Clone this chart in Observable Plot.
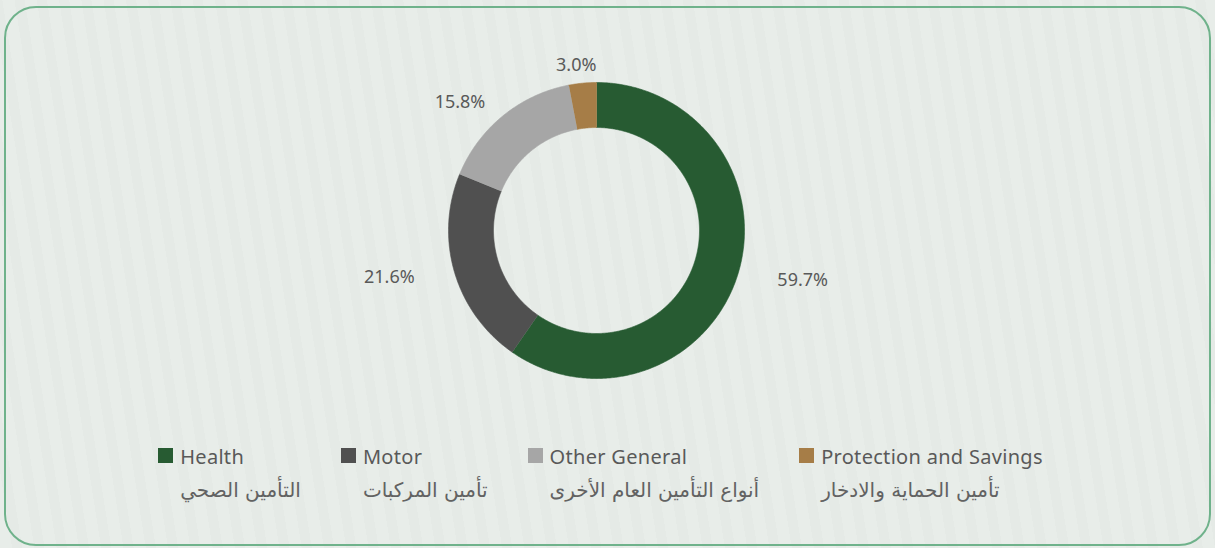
<!DOCTYPE html>
<html>
<head>
<meta charset="utf-8">
<script src="https://cdn.jsdelivr.net/npm/d3@7"></script>
<script src="https://cdn.jsdelivr.net/npm/@observablehq/plot@0.6"></script>
<style>
  html, body { margin: 0; padding: 0; }
  body { width: 1215px; height: 548px; overflow: hidden; font-family: "Noto Sans", "DejaVu Sans", sans-serif; }
  #page {
    position: relative; width: 1215px; height: 548px;
    background: repeating-linear-gradient(81deg, #e8ede9 0px, #e8ede9 12px, #e5eae6 12px, #e5eae6 22px);
  }
  #frame {
    position: absolute; left: 4px; top: 6px; width: 1203px; height: 536px;
    border: 2px solid #6fb28b; border-radius: 32px; pointer-events: none;
  }
  #chart { position: absolute; left: 0; top: 0; }
  #legend {
    position: absolute; left: 0; top: 443px; width: 1215px;
    display: flex; justify-content: center; gap: 40px; padding-right: 14px; box-sizing: border-box;
    color: #595959;
  }
  .item { display: flex; align-items: flex-start; }
  .sw { width: 15px; height: 15px; margin-top: 5px; margin-right: 7px; flex: none; }
  .en { font-size: 20px; letter-spacing: 0.3px; line-height: 27px; white-space: nowrap; }
  .ar { font-family: "DejaVu Sans", sans-serif; font-size: 20px; line-height: 40px; white-space: nowrap; text-align: left; color: #626262; }
</style>
</head>
<body>
<div id="page">
  <div id="chart"></div>
  <div id="legend"></div>
  <div id="frame"></div>
</div>
<script>
// ---- data ----
const categories = ["Health", "Motor", "Other General", "Protection and Savings"];
const arabicLabels = ["التأمين الصحي", "تأمين المركبات", "أنواع التأمين العام الأخرى", "تأمين الحماية والادخار"];
const shares = [59.7, 21.6, 15.8, 3.0];
const valueLabels = ["59.7%", "21.6%", "15.8%", "3.0%"];
const colors = ["#275b32", "#505050", "#a6a6a6", "#a67d47"];

// ---- geometry (unit circle = outer radius) ----
const W = 1215, H = 440, R = 148, cx = 596, cy = 230;
const inner = 103 / 148;
const pie = d3.pie().sort(null).value(d => d)(shares);

const pts = [];
pie.forEach((s, i) => {
  const a0 = s.startAngle, a1 = s.endAngle;
  const n = Math.max(4, Math.ceil((a1 - a0) / (Math.PI / 360)));
  for (let k = 0; k <= n; k++) {
    const a = a0 + (a1 - a0) * k / n;
    pts.push({cat: categories[i], x: Math.sin(a), y: Math.cos(a)});
  }
  for (let k = n; k >= 0; k--) {
    const a = a0 + (a1 - a0) * k / n;
    pts.push({cat: categories[i], x: inner * Math.sin(a), y: inner * Math.cos(a)});
  }
});

// outside-end labels: pushed out along the mid-angle, more sideways than vertically
const gap = 10 / R, hw = 58 / R, hh = 8 / R;
const labs = pie.map((s, i) => {
  const a = (s.startAngle + s.endAngle) / 2;
  const dx = Math.sin(a), dy = Math.cos(a);
  return {
    text: valueLabels[i],
    x: dx * (1 + gap) + dx * hw,
    y: dy * (1 + gap) + dy * hh
  };
});

const chart = Plot.plot({
  width: W, height: H,
  marginTop: 0, marginRight: 0, marginBottom: 0, marginLeft: 0,
  x: {domain: [-cx / R, (W - cx) / R], axis: null},
  y: {domain: [(cy - H) / R, cy / R], axis: null},
  color: {domain: categories, range: colors},
  style: {background: "transparent", fontFamily: "'Noto Sans', 'DejaVu Sans', sans-serif"},
  marks: [
    Plot.line(pts, {x: "x", y: "y", z: "cat", fill: "cat", stroke: "cat", strokeWidth: 0.6, curve: "linear"}),
    Plot.text(labs, {x: "x", y: "y", text: "text", fill: "#595959", fontSize: 18, textAnchor: "middle", lineAnchor: "middle"})
  ]
});
document.getElementById("chart").appendChild(chart);

// ---- legend ----
const legend = document.getElementById("legend");
categories.forEach((c, i) => {
  const item = document.createElement("div");
  item.className = "item";
  const sw = document.createElement("div");
  sw.className = "sw";
  sw.style.background = colors[i];
  const col = document.createElement("div");
  const en = document.createElement("div");
  en.className = "en";
  en.textContent = c;
  const ar = document.createElement("div");
  ar.className = "ar";
  ar.textContent = arabicLabels[i];
  col.appendChild(en); col.appendChild(ar);
  item.appendChild(sw); item.appendChild(col);
  legend.appendChild(item);
});
</script>
</body>
</html>
